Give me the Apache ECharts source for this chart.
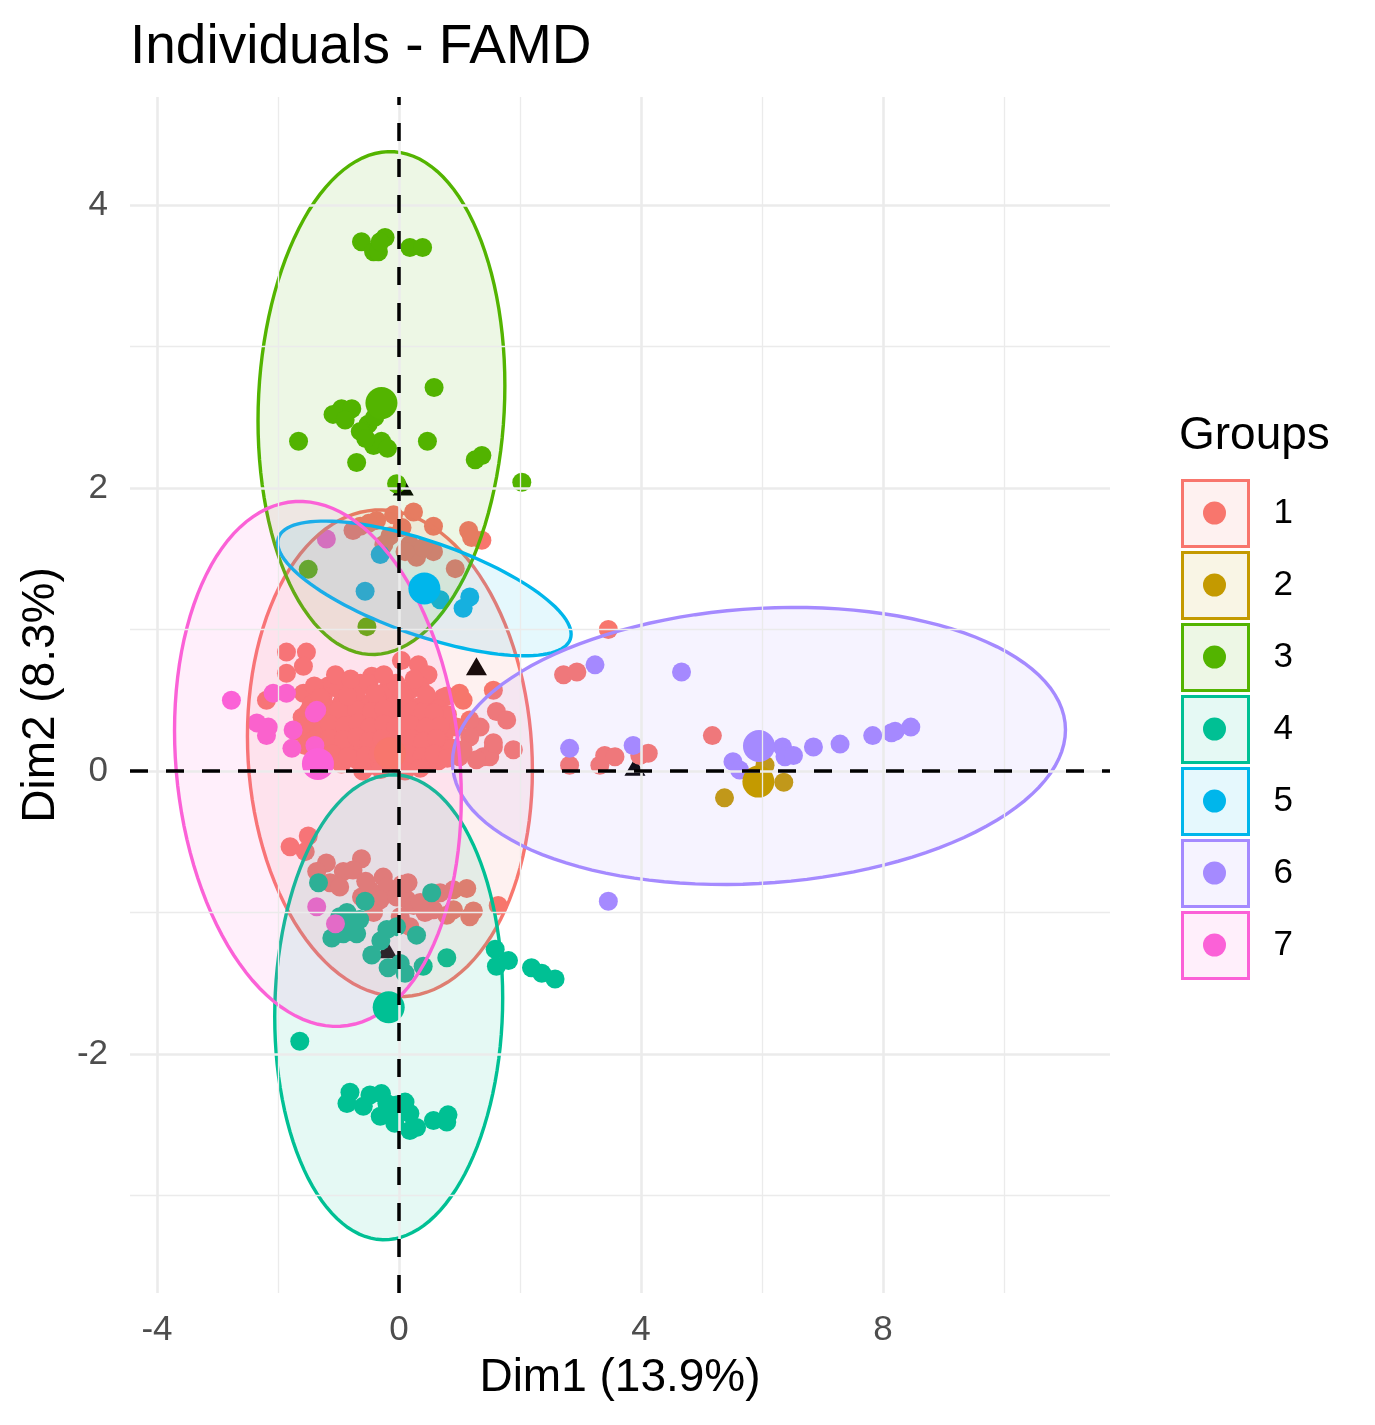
<!DOCTYPE html>
<html>
<head>
<meta charset="utf-8">
<script src="https://cdn.jsdelivr.net/npm/echarts@6/dist/echarts.min.js"></script>
<style>html,body{margin:0;padding:0;background:#fff}#c{width:1375px;height:1425px}</style>
</head>
<body>
<div id="c"></div>
<script>
// ---------- data ----------
const groupNames = ['1','2','3','4','5','6','7'];
const groupColors = ['#F8766D','#C49A00','#53B400','#00C094','#00B6EB','#A58AFF','#FB61D7'];

const group1Points = [
  [0.24,1.83],[0.57,1.73],[1.15,1.70],[1.37,1.63],[-0.64,1.73],[-0.37,1.77],[-0.09,1.81],[-0.15,1.66],
  [0.18,1.60],[0.29,1.51],[0.57,1.55],[0.93,1.43],[-0.76,1.70],[-0.5,1.75],[0.05,1.72],[0.4,1.58],
  [0.1,1.55],[-0.25,1.6],[1.2,1.65],
  [-1.86,0.84],[-1.53,0.84],[-1.58,0.74],[-1.86,0.69],[0.04,0.78],[0.32,0.75],[0.48,0.68],[-0.45,0.67],
  [1.56,0.57],[-1.58,0.55],[-2.19,0.50],[-1.17,0.60],[-0.92,0.62],[-0.64,0.62],[-0.2,0.57],[0.18,0.57],
  [-1.25,0.53],[0.73,0.52],[1.0,0.55],[0.79,0.53],[1.06,0.50],
  [1.61,0.42],[1.78,0.36],[1.34,0.31],[1.89,0.15],[1.56,0.17],[1.39,0.10],[1.0,0.10],[1.17,0.36],
  [1.17,0.24],[1.5,0.10],[1.28,0.08],[1.06,0.15],[0.79,0.38],[0.95,0.31],[1.56,0.2],
  [2.72,0.68],[2.94,0.70],[3.46,1.0],[2.82,0.04],[3.32,0.04],[3.40,0.11],[3.57,0.10],[3.98,0.11],
  [4.12,0.125],[5.18,0.25],
  [-1.45,0.47],[-1.2,0.45],[-0.95,0.48],[-0.75,0.5],[-0.55,0.47],[-0.35,0.5],[-0.1,0.46],[0.1,0.49],
  [0.3,0.45],[0.5,0.48],[0.65,0.44],
  [-1.6,0.38],[-1.35,0.36],[-1.1,0.4],[-0.85,0.37],[-0.62,0.4],[-0.4,0.36],[-0.18,0.39],[0.02,0.35],
  [0.22,0.4],[0.42,0.37],[0.6,0.35],[0.8,0.4],
  [-1.7,0.28],[-1.48,0.26],[-1.25,0.3],[-1.0,0.27],[-0.78,0.3],[-0.55,0.26],[-0.32,0.29],[-0.1,0.25],
  [0.12,0.28],[0.35,0.25],[0.55,0.29],[0.75,0.26],
  [-1.55,0.18],[-1.3,0.16],[-1.05,0.19],[-0.82,0.15],[-0.6,0.18],[-0.38,0.16],[-0.15,0.2],[0.08,0.15],
  [0.3,0.18],[0.5,0.14],[0.7,0.19],[0.88,0.16],
  [-1.2,0.07],[-0.95,0.05],[-0.7,0.08],[-0.45,0.04],[-0.25,0.07],[0.0,0.05],[0.22,0.08],[0.45,0.05],
  [0.65,0.07],
  [-1.0,0.58],[-0.7,0.56],[-0.5,0.62],[-0.05,0.62],[0.35,0.6],[-1.4,0.6],
  [-1.5,0.42],[-1.25,0.41],[-1.0,0.43],[-0.7,0.43],[-0.45,0.42],[-0.25,0.44],[0.0,0.41],[0.2,0.43],
  [0.4,0.42],[0.58,0.41],
  [-1.6,0.32],[-1.15,0.33],[-0.9,0.32],[-0.68,0.34],[-0.48,0.31],[-0.25,0.33],[-0.05,0.31],[0.18,0.33],
  [0.45,0.31],[0.68,0.32],
  [-1.4,0.22],[-1.15,0.23],[-0.92,0.22],[-0.7,0.24],[-0.5,0.21],[-0.28,0.23],[-0.05,0.22],[0.2,0.23],
  [0.4,0.21],[0.62,0.23],
  [-1.1,0.12],[-0.85,0.1],[-0.55,0.11],[-0.35,0.12],[-0.1,0.11],[0.15,0.12],[0.38,0.1],[0.58,0.12],
  [0.8,0.09],
  [-0.6,0.0],[-0.3,0.01],[0.1,0.0],[0.35,0.02],
  [-1.3,0.52],[-0.85,0.53],[-0.4,0.55],[0.05,0.53],[0.45,0.54],
  [-0.25,0.68],[-1.05,0.68],[-0.8,0.65],[0.25,0.65],
  [-1.8,-0.535],[-1.5,-0.46],[-1.55,-0.57],[-0.62,-0.62],[-1.2,-0.65],[-1.36,-0.71],[-0.92,-0.71],
  [-0.76,-0.70],[-1.14,-0.79],[-0.98,-0.82],[-0.26,-0.75],[-0.2,-0.82],[0.15,-0.79],[-0.48,-0.84],
  [-0.62,-0.89],[-0.31,-0.91],[-0.04,-0.89],[0.13,-0.91],[0.24,-0.95],[-0.42,-1.0],[0.02,-1.03],
  [0.18,-1.10],[0.68,-0.86],[0.9,-0.84],[1.12,-0.83],[0.57,-0.98],[0.79,-1.02],[0.9,-0.98],
  [1.23,-0.99],[1.17,-1.03],[1.64,-0.95],[0.43,-1.0],[-0.55,-0.78],[0.05,-0.8],[0.35,-0.93]
];
const group2Points = [[6.05,0.04],[6.36,-0.08],[5.38,-0.19]];
const group3Points = [
  [-0.62,3.74],[-0.23,3.77],[-0.42,3.67],[-0.34,3.67],[-0.31,3.74],[0.18,3.70],[0.39,3.70],
  [0.58,2.71],[-0.95,2.56],[-0.78,2.56],[-1.09,2.52],[-0.89,2.48],[-0.51,2.45],[-0.64,2.40],
  [-0.29,2.33],[-0.42,2.30],[-0.19,2.28],[-1.66,2.33],[0.47,2.33],[-0.7,2.18],[1.26,2.20],
  [1.37,2.23],[-0.04,2.03],[2.03,2.04],[-1.5,1.425],[-0.53,1.02],[-0.4,2.5],[-0.55,2.35]
];
const group4Points = [
  [-1.33,-0.79],[-0.56,-0.92],[0.54,-0.86],[-0.98,-1.03],[-0.86,-1.0],[-0.76,-1.08],[-1.11,-1.18],
  [-0.92,-1.15],[-0.7,-1.15],[-0.45,-1.3],[-0.2,-1.12],[-0.04,-1.1],[-0.18,-1.39],[0.02,-1.36],
  [0.1,-1.43],[0.29,-1.16],[0.4,-1.38],[0.79,-1.32],[1.59,-1.26],[1.61,-1.38],[1.81,-1.34],
  [2.19,-1.39],[2.36,-1.43],[2.58,-1.47],[-1.64,-1.91],[-0.81,-2.27],[-0.86,-2.35],[-0.59,-2.37],
  [-0.48,-2.29],[-0.29,-2.28],[-0.31,-2.44],[-0.07,-2.49],[-0.04,-2.36],[0.1,-2.34],[0.18,-2.42],
  [0.18,-2.54],[0.29,-2.52],[0.57,-2.47],[0.81,-2.43],[0.79,-2.48],[-0.65,-1.05],[-0.3,-1.2],
  [-0.1,-2.45],[-0.2,-2.35]
];
const group5Points = [[-0.31,1.53],[-0.56,1.27],[0.68,1.21],[1.17,1.23],[1.06,1.15]];
const group6Points = [
  [3.24,0.75],[4.67,0.70],[2.82,0.16],[3.87,0.18],[5.52,0.066],[5.63,0.007],[6.34,0.17],[6.38,0.10],
  [6.52,0.11],[6.85,0.17],[7.29,0.19],[7.83,0.25],[8.14,0.27],[8.2,0.28],[8.46,0.31],[3.46,-0.92]
];
const group7Points = [
  [-1.2,1.64],[-2.77,0.50],[-2.08,0.55],[-1.86,0.55],[-2.35,0.34],[-2.16,0.31],[-2.19,0.25],
  [-1.75,0.29],[-1.77,0.16],[-1.4,0.41],[-1.36,0.43],[-1.39,0.18],[-1.36,-0.96],[-1.05,-1.08]
];
const groupCentroids = [[-0.15,0.125],[5.94,-0.075],[-0.29,2.60],[-0.17,-1.67],[0.42,1.29],[5.95,0.177],[-1.34,0.05]];
const supplementaryPoints = [[0.07,2.01],[1.28,0.74],[3.9,0.03],[-0.86,0.10],[-0.2,-1.26]];

// ellipse statistics (group, sd x, sd y, correlation) centred on the group centroid
const ellipseGroups = [0, 2, 3, 4, 5, 6];
const ellipseSx = [2.355, 2.04, 1.884, 2.425, 5.066, 2.37];
const ellipseSy = [1.72, 1.777, 1.643, 0.476, 0.979, 1.855];
const ellipseR  = [-0.07, 0.07, 0.04, -0.68, 0.116, -0.127];

const xMajor = [-4, 0, 4, 8];
const xMinor = [-2, 2, 6, 10];
const yMajor = [-2, 0, 2, 4];
const yMinor = [-3, -1, 1, 3];

// ---------- chart ----------
const FONT = "'Liberation Sans', Arial, Helvetica, sans-serif";
const groupPoints = [group1Points, group2Points, group3Points, group4Points, group5Points, group6Points, group7Points];

function hexA(hex, a) {
  const n = parseInt(hex.slice(1), 16);
  return 'rgba(' + ((n >> 16) & 255) + ',' + ((n >> 8) & 255) + ',' + (n & 255) + ',' + a + ')';
}

const series = [];

// grid lines
series.push({
  type: 'scatter', name: 'gridlines', data: [], z: 0, silent: true,
  markLine: {
    silent: true, symbol: 'none', animation: false, label: { show: false },
    data: [].concat(
      xMajor.map(v => ({ xAxis: v, lineStyle: { color: '#EBEBEB', width: 2.6, type: 'solid' } })),
      xMinor.map(v => ({ xAxis: v, lineStyle: { color: '#EBEBEB', width: 1.3, type: 'solid' } })),
      yMajor.map(v => ({ yAxis: v, lineStyle: { color: '#EBEBEB', width: 2.6, type: 'solid' } })),
      yMinor.map(v => ({ yAxis: v, lineStyle: { color: '#EBEBEB', width: 1.3, type: 'solid' } }))
    )
  }
});

// supplementary categories (triangles)
series.push({
  type: 'scatter', name: 'sup', data: supplementaryPoints, symbol: 'triangle', symbolSize: [21, 18],
  itemStyle: { color: '#000000', opacity: 1 }, z: 1, silent: true
});

// individuals
groupNames.forEach((g, i) => {
  series.push({
    type: 'scatter', name: g, data: groupPoints[i], symbol: 'circle', symbolSize: 19,
    itemStyle: { color: groupColors[i], opacity: 1 }, z: 2, silent: true
  });
});

// ellipses
ellipseGroups.forEach((gi, k) => {
  const cx = groupCentroids[gi][0], cy = groupCentroids[gi][1];
  const sx = ellipseSx[k], sy = ellipseSy[k], r = ellipseR[k];
  series.push({
    type: 'custom', name: groupNames[gi], z: 3, silent: true, clip: true,
    data: [[cx, cy]],
    renderItem: function (params, api) {
      const pts = [];
      const N = 120;
      for (let j = 0; j < N; j++) {
        const t = 2 * Math.PI * j / N;
        const x = cx + sx * Math.cos(t);
        const y = cy + sy * (r * Math.cos(t) + Math.sqrt(1 - r * r) * Math.sin(t));
        pts.push(api.coord([x, y]));
      }
      return {
        type: 'polygon', shape: { points: pts },
        style: { fill: hexA(groupColors[gi], 0.1), stroke: groupColors[gi], lineWidth: 3.4 }
      };
    }
  });
});

// centroids
groupNames.forEach((g, i) => {
  series.push({
    type: 'scatter', name: g, data: [groupCentroids[i]], symbol: 'circle', symbolSize: 32,
    itemStyle: { color: groupColors[i], opacity: 1 }, z: 4, silent: true
  });
});

// reference dashed lines
series.push({
  type: 'scatter', name: 'ref', data: [], z: 6, silent: true,
  markLine: {
    silent: true, symbol: 'none', animation: false, label: { show: false },
    lineStyle: { color: '#000000', width: 3.5, type: [18, 18] },
    data: [{ xAxis: 0 }, { yAxis: 0 }]
  }
});

const legendData = groupNames.map((g, i) => ({
  name: g, icon: 'rect',
  itemStyle: { color: hexA(groupColors[i], 0.1), borderColor: groupColors[i], borderWidth: 3 }
}));

const legendTop = 479, legendPitch = 72;
const legendDots = groupNames.map((g, i) => ({
  type: 'circle', shape: { cx: 1214.5, cy: legendTop + 34 + legendPitch * i, r: 11.5 },
  style: { fill: groupColors[i] }, z: 100
}));

const option = {
  animation: false,
  backgroundColor: '#ffffff',
  textStyle: { fontFamily: FONT },
  title: [
    { text: 'Individuals - FAMD', left: 130, top: 20, padding: 0,
      textStyle: { fontFamily: FONT, fontSize: 55, fontWeight: 'normal', color: '#000000' } },
    { text: 'Groups', left: 1179, top: 413, padding: 0,
      textStyle: { fontFamily: FONT, fontSize: 46, fontWeight: 'normal', color: '#000000' } }
  ],
  grid: { left: 130, right: 265, top: 97, bottom: 132, containLabel: false },
  xAxis: {
    type: 'value', min: -4.446, max: 11.752,
    name: 'Dim1 (13.9%)', nameLocation: 'middle', nameGap: 62,
    nameTextStyle: { fontFamily: FONT, fontSize: 46, color: '#000000' },
    axisLine: { show: false }, axisTick: { show: false }, splitLine: { show: false },
    axisLabel: { customValues: xMajor, fontFamily: FONT, fontSize: 35, color: '#4D4D4D', margin: 20 }
  },
  yAxis: {
    type: 'value', min: -3.689, max: 4.763,
    name: 'Dim2 (8.3%)', nameLocation: 'middle', nameGap: 66, nameRotate: 90,
    nameTextStyle: { fontFamily: FONT, fontSize: 46, color: '#000000' },
    axisLine: { show: false }, axisTick: { show: false }, splitLine: { show: false },
    axisLabel: { customValues: yMajor, fontFamily: FONT, fontSize: 35, color: '#4D4D4D', margin: 22 }
  },
  legend: {
    data: legendData, orient: 'vertical', left: 1181, top: legendTop, padding: 0,
    itemWidth: 66, itemHeight: 66, itemGap: 3, selectedMode: false,
    textStyle: { fontFamily: FONT, fontSize: 35, color: '#000000', padding: [0, 0, 0, 20] }
  },
  graphic: legendDots,
  series: series
};

const chart = echarts.init(document.getElementById('c'), null, { renderer: 'canvas' });
chart.setOption(option);
</script>
</body>
</html>
